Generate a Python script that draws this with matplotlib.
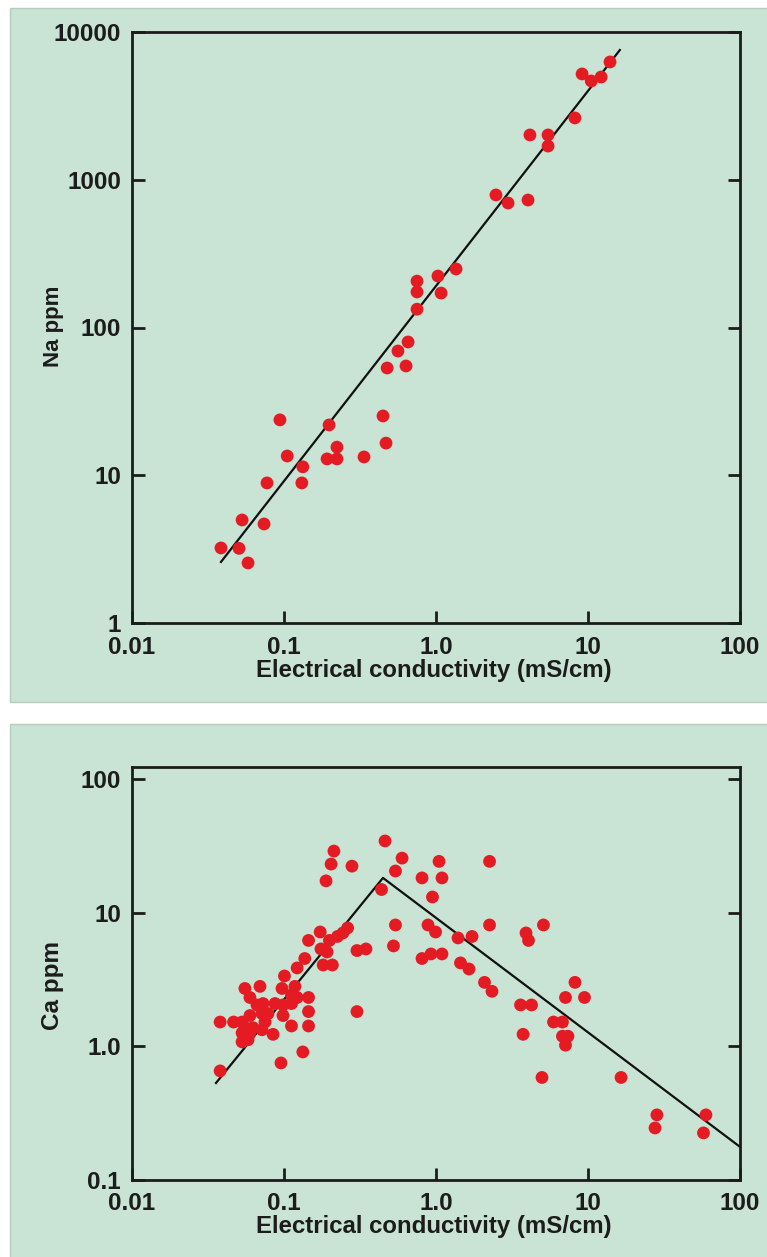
import matplotlib
matplotlib.use('Agg')
import matplotlib.pyplot as plt
from matplotlib.patches import Rectangle

# ---------------- data ----------------
na_ec = [13.96, 9.14, 10.5, 12.2, 8.2, 4.15, 5.46, 5.46, 2.48, 2.98, 4.03,
         1.355, 1.03, 0.75, 0.75, 1.08, 0.75, 0.655, 0.562, 0.477, 0.635,
         0.448, 0.094, 0.198, 0.469, 0.223, 0.105, 0.192, 0.223, 0.336,
         0.133, 0.0773, 0.131, 0.053, 0.0739, 0.0385, 0.0506, 0.058]
na_ppm = [6270, 5200, 4660, 4960, 2620, 2010, 2010, 1690, 789, 696, 729,
          249, 223, 206, 174, 171, 133, 79.8, 69.3, 53.2, 54.9,
          25.2, 23.7, 21.9, 16.5, 15.5, 13.5, 12.9, 12.9, 13.3,
          11.4, 8.87, 8.87, 4.98, 4.68, 3.22, 3.20, 2.55]
na_fit_ec = [0.0385, 16.2]
na_fit_ppm = [2.59, 7550]

ca_ec = [0.462, 0.213, 0.204, 0.280, 0.598, 0.541, 1.047, 2.25, 0.809, 1.095,
         0.189, 0.948, 0.438, 0.541, 0.886, 0.993, 2.25, 5.09, 3.91, 4.06,
         1.396, 1.726, 0.525, 0.809, 0.927, 1.095, 1.449, 1.648, 2.085, 2.335,
         8.21, 7.11, 9.48, 3.60, 4.25, 5.93, 6.79, 3.74, 6.79, 7.38,
         7.11, 4.98, 16.5, 28.4, 27.6, 59.7, 57.5,
         0.173, 0.199, 0.225, 0.244, 0.262, 0.145, 0.175, 0.192, 0.302, 0.346,
         0.137, 0.181, 0.208, 0.122, 0.1007, 0.0553, 0.0695, 0.097, 0.118, 0.112,
         0.122, 0.145, 0.0597, 0.0664, 0.0728, 0.0873, 0.0985, 0.112, 0.145, 0.0380,
         0.0466, 0.0597, 0.0717, 0.0785, 0.0750, 0.0985, 0.112, 0.145, 0.0530, 0.0553,
         0.0625, 0.0530, 0.0597, 0.0717, 0.0847, 0.0530, 0.0580, 0.133, 0.0955, 0.0380,
         0.302]
ca_ppm = [34.4, 28.9, 23.1, 22.3, 25.6, 20.5, 24.2, 24.2, 18.2, 18.2,
          17.3, 13.1, 14.9, 8.09, 8.09, 7.17, 8.09, 8.09, 7.05, 6.20,
          6.47, 6.64, 5.64, 4.54, 4.91, 4.91, 4.21, 3.79, 3.01, 2.58,
          3.01, 2.32, 2.32, 2.04, 2.04, 1.52, 1.52, 1.23, 1.19, 1.19,
          1.02, 0.585, 0.585, 0.307, 0.245, 0.307, 0.225,
          7.17, 6.20, 6.64, 7.05, 7.69, 6.20, 5.35, 5.08, 5.21, 5.35,
          4.54, 4.06, 4.06, 3.86, 3.36, 2.71, 2.81, 2.71, 2.81, 2.42,
          2.32, 2.32, 2.32, 2.04, 2.09, 2.09, 2.04, 2.09, 1.82, 1.52,
          1.52, 1.70, 1.76, 1.76, 1.52, 1.70, 1.42, 1.42, 1.52, 1.38,
          1.38, 1.26, 1.26, 1.33, 1.23, 1.08, 1.12, 0.908, 0.751, 0.655,
          1.82]
ca_fit_ec = [0.0357, 0.448, 100]
ca_fit_ppm = [0.532, 18.2, 0.177]

x_ticks = [0.01, 0.1, 1, 10, 100]
x_ticklabels = ['0.01', '0.1', '1.0', '10', '100']
na_yticks = [1, 10, 100, 1000, 10000]
na_yticklabels = ['1', '10', '100', '1000', '10000']
ca_yticks = [0.1, 1, 10, 100]
ca_yticklabels = ['0.1', '1.0', '10', '100']
xlabel = 'Electrical conductivity (mS/cm)'

# ---------------- style ----------------
plt.rcParams['font.family'] = ['Liberation Sans', 'DejaVu Sans']
plt.rcParams['font.weight'] = 'bold'

W, H = 767, 1257
BG = '#C9E4D4'
DOT = '#E51B24'
INK = '#1c1c1c'

fig = plt.figure(figsize=(W / 100, H / 100), dpi=100)
fig.patch.set_facecolor('white')


def rect(l, t, r, b):
    return [l / W, 1 - b / H, (r - l) / W, (b - t) / H]


for (l, t, r, b) in [(10, 8, 768, 702), (10, 724, 768, 1258)]:
    fig.patches.append(Rectangle((l / W, 1 - b / H), (r - l) / W, (b - t) / H,
                                 transform=fig.transFigure, facecolor=BG,
                                 edgecolor='#B5CDBF', linewidth=1.0, zorder=-10))


def style_axes(ax, yticks, yticklabels, ylim):
    ax.set_zorder(5)
    ax.set_xscale('log')
    ax.set_yscale('log')
    ax.set_xlim(0.01, 100)
    ax.set_ylim(*ylim)
    ax.set_facecolor(BG)
    ax.set_xticks(x_ticks)
    ax.set_xticklabels(x_ticklabels)
    ax.set_yticks(yticks)
    ax.set_yticklabels(yticklabels)
    ax.minorticks_off()
    ax.tick_params(axis='both', which='major', direction='in', length=9,
                   width=2.0, labelsize=17.5, color=INK)
    ax.tick_params(axis='y', right=True, left=True, pad=8)
    ax.tick_params(axis='x', top=False, bottom=True, pad=9)
    for lab in ax.get_xticklabels() + ax.get_yticklabels():
        lab.set_fontweight('bold')
        lab.set_color(INK)
    for sp in ax.spines.values():
        sp.set_linewidth(2.0)
        sp.set_color(INK)


# ---------------- top panel ----------------
ax1 = fig.add_axes(rect(132, 32, 740, 623))
style_axes(ax1, na_yticks, na_yticklabels, (1, 10000))
ax1.plot(na_fit_ec, na_fit_ppm, color='#111111', lw=1.6, zorder=2)
ax1.scatter(na_ec, na_ppm, s=85, color=DOT, edgecolors='none', zorder=3)
fig.text(53 / W, 1 - 326 / H, 'Na ppm', rotation=90, ha='center', va='center',
         fontsize=16, fontweight='bold', color=INK)
fig.text(434 / W, 1 - 670 / H, xlabel, ha='center', va='center',
         fontsize=17.3, fontweight='bold', color=INK)

# ---------------- bottom panel ----------------
ax2 = fig.add_axes(rect(132, 767, 740, 1180))
style_axes(ax2, ca_yticks, ca_yticklabels, (0.1, 123))
ax2.plot(ca_fit_ec, ca_fit_ppm, color='#111111', lw=1.6, zorder=2)
ax2.scatter(ca_ec, ca_ppm, s=85, color=DOT, edgecolors='none', zorder=3)
fig.text(52 / W, 1 - 985 / H, 'Ca ppm', rotation=90, ha='center', va='center',
         fontsize=17.5, fontweight='bold', color=INK)
fig.text(434 / W, 1 - 1227 / H, xlabel, ha='center', va='center',
         fontsize=17.3, fontweight='bold', color=INK)

fig.savefig('out.png', dpi=100, facecolor='white')
